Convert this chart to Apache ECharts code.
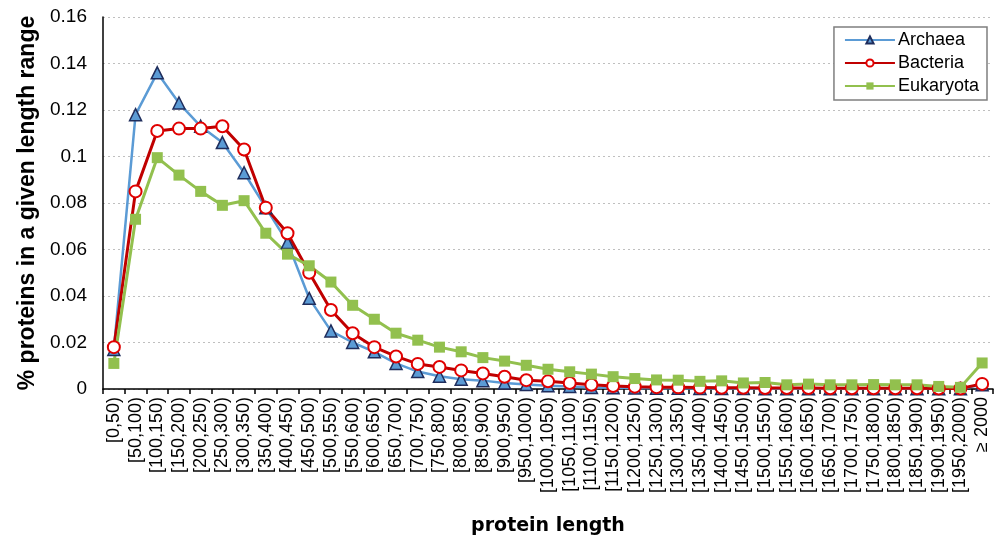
<!DOCTYPE html>
<html>
<head>
<meta charset="utf-8">
<script src="https://cdn.jsdelivr.net/npm/echarts@6/dist/echarts.min.js"></script>
<style>
  html, body { margin: 0; padding: 0; background: #fff; }
  #chart { width: 995px; height: 537px; }
</style>
</head>
<body>
<div id="chart"></div>
<script>
const categories = [
  '[0,50)', '[50,100)', '[100,150)', '[150,200)', '[200,250)', '[250,300)', '[300,350)',
  '[350,400)', '[400,450)', '[450,500)', '[500,550)', '[550,600)', '[600,650)', '[650,700)',
  '[700,750)', '[750,800)', '[800,850)', '[850,900)', '[900,950)', '[950,1000)', '[1000,1050)',
  '[1050,1100)', '[1100,1150)', '[1150,1200)', '[1200,1250)', '[1250,1300)', '[1300,1350)',
  '[1350,1400)', '[1400,1450)', '[1450,1500)', '[1500,1550)', '[1550,1600)', '[1600,1650)',
  '[1650,1700)', '[1700,1750)', '[1750,1800)', '[1800,1850)', '[1850,1900)', '[1900,1950)',
  '[1950,2000)', '≥ 2000'
]

const archaea = [
  0.017, 0.118, 0.136, 0.123, 0.113, 0.106, 0.093, 0.078, 0.063, 0.039, 0.025,
  0.020, 0.016, 0.011, 0.0075, 0.0055, 0.0042, 0.0036, 0.0026, 0.0019, 0.0014,
  0.0011, 0.0006, 0.0005, 0.0004, 0.0003, 0.0003, 0.0002, 0.0002, 0.0002, 0.0001,
  0.0001, 0.0001, 0.0001, 0.0001, 0.0001, 0.0001, 0.0001, 0.0001, 0.0001, 0.0018
]
const bacteria = [
  0.018, 0.085, 0.111, 0.112, 0.112, 0.113, 0.103, 0.078, 0.067, 0.050, 0.034,
  0.024, 0.018, 0.014, 0.0108, 0.0095, 0.008, 0.0067, 0.0053, 0.0038, 0.0033,
  0.0026, 0.0018, 0.0013, 0.001, 0.0008, 0.0007, 0.0006, 0.0005, 0.0005, 0.0004,
  0.0004, 0.0004, 0.0003, 0.0003, 0.0003, 0.0003, 0.0003, 0.0002, 0.0002, 0.0022
]
const eukaryota = [
  0.011, 0.073, 0.0995, 0.092, 0.085, 0.079, 0.081, 0.067, 0.058, 0.053, 0.046,
  0.036, 0.030, 0.024, 0.021, 0.018, 0.016, 0.0135, 0.012, 0.0102, 0.0085,
  0.0074, 0.0064, 0.0053, 0.0045, 0.0039, 0.0038, 0.0033, 0.0035, 0.0026, 0.0028,
  0.0018, 0.0021, 0.0018, 0.0018, 0.0019, 0.0018, 0.0018, 0.0011, 0.0007, 0.0112
]

const font = 'Liberation Sans, Arial, sans-serif'

const chart = echarts.init(document.getElementById('chart'), null, { renderer: 'canvas' })

chart.setOption({
  animation: false,
  backgroundColor: '#fff',
  textStyle: { fontFamily: font },
  // v6 would otherwise shrink the grid to keep labels inside
  grid: { left: 103, right: 2, top: 17, bottom: 148, containLabel: false, outerBoundsMode: 'none' },
  legend: {
    orient: 'vertical',
    right: 8,
    top: 27,
    padding: [4, 8, 5, 10],
    itemGap: 5,
    itemWidth: 50,
    itemHeight: 9,
    backgroundColor: '#fff',
    borderColor: '#7f7f7f',
    borderWidth: 1.5,
    borderRadius: 0,
    textStyle: { fontSize: 18, color: '#000', fontFamily: font, padding: [0, 0, 0, -2] },
    data: ['Archaea', 'Bacteria', 'Eukaryota']
  },
  xAxis: {
    type: 'category',
    data: categories,
    boundaryGap: true,
    name: 'protein length',
    nameLocation: 'middle',
    nameGap: 128,
    nameTextStyle: { fontSize: 19, fontWeight: 'bold', color: '#000', fontFamily: 'DejaVu Sans' },
    axisLine: { lineStyle: { color: '#000', width: 1.5 } },
    axisTick: { show: true, length: 5, lineStyle: { color: '#000', width: 1.5 } },
    axisLabel: { interval: 0, rotate: 90, fontSize: 18, color: '#000', margin: 8 },
    splitLine: { show: false }
  },
  yAxis: {
    type: 'value',
    min: 0,
    max: 0.16,
    interval: 0.02,
    name: '% proteins in a given length range',
    nameLocation: 'middle',
    nameRotate: 90,
    nameGap: 64,
    nameTextStyle: { fontSize: 23, fontWeight: 'bold', color: '#000' },
    axisLine: { show: true, lineStyle: { color: '#000', width: 1.5 } },
    axisTick: { show: false },
    axisLabel: { fontSize: 19, color: '#000', margin: 16 },
    splitLine: { show: true, lineStyle: { color: '#bfbfbf', type: [2, 3], width: 1 } }
  },
  series: [
    {
      name: 'Archaea',
      type: 'line',
      data: archaea,
      symbol: 'triangle',
      symbolSize: 12,
      lineStyle: { color: '#5b9bd5', width: 2.5 },
      itemStyle: { color: '#5b9bd5', borderColor: '#1f2d5c', borderWidth: 1.5 }
    },
    {
      name: 'Bacteria',
      type: 'line',
      data: bacteria,
      symbol: 'emptyCircle',
      symbolSize: 12,
      lineStyle: { color: '#c00000', width: 3 },
      itemStyle: { color: '#e00000', borderColor: '#e00000', borderWidth: 1.2 }
    },
    {
      name: 'Eukaryota',
      type: 'line',
      data: eukaryota,
      symbol: 'rect',
      symbolSize: 11,
      lineStyle: { color: '#92c04e', width: 3 },
      itemStyle: { color: '#92c04e' }
    }
  ]
})
</script>
</body>
</html>
